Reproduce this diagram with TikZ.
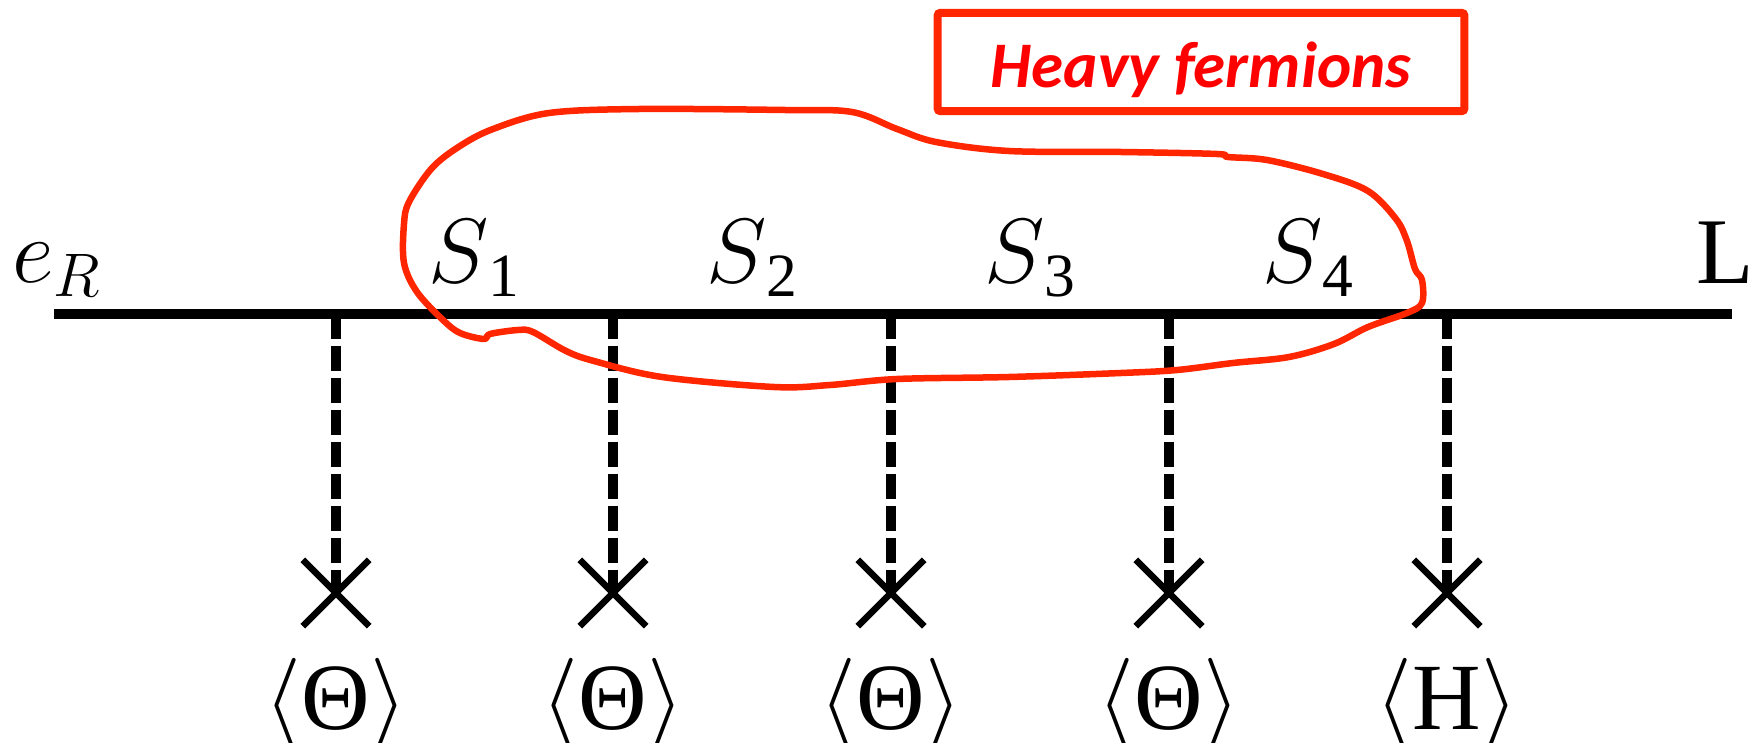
\RequirePackage{fix-cm}
\documentclass[tikz,border=0pt]{standalone}
\usepackage{fontspec}
\setmainfont{Liberation Serif}
\newfontfamily\calib{Carlito}
\usetikzlibrary{shapes.misc}
\definecolor{penred}{RGB}{255,38,0}
\definecolor{txtred}{RGB}{255,0,0}
\newcommand{\lsub}[1]{\raisebox{-0.3cm}{\fontsize{35}{40}\selectfont #1}}
\begin{document}
\begin{tikzpicture}[x=0.02cm,y=-0.02cm,
  mainline/.style={line width=0.2cm},
  prop/.style={line width=0.19cm, dash pattern=on 0.5cm off 0.14cm},
  vev/.style={cross out, draw, line width=0.13cm, minimum width=1.2cm, minimum height=1.2cm, inner sep=0pt},
  lab/.style={anchor=base, inner sep=0pt, font=\fontsize{52}{60}\selectfont},
  bot/.style={anchor=base, inner sep=0pt, font=\fontsize{54}{60}\selectfont},
  loop/.style={draw=penred, line width=0.13cm, line join=round},
  hfbox/.style={draw=penred, line width=0.16cm, rounded corners=0.06cm,
    minimum width=10.54cm, minimum height=1.97cm, inner sep=0pt,
    text height=1.2cm, text depth=0.16cm,
    font=\fontsize{37}{42}\calib\bfseries\itshape, text=txtred},
]
\useasboundingbox (0,0) rectangle (1758,743);
% main fermion line
\coordinate (lineL) at (54,314);
\coordinate (lineR) at (1732,314);
\draw[mainline] (lineL) -- (lineR);
% vertices, crosses, labels
\foreach \i/\x/\t in {1/336/Θ,2/613/Θ,3/891/Θ,4/1169/Θ,5/1447/H}{
  \coordinate (v\i) at (\x,314);
  \node[vev] (c\i) at (\x,593) {};
  \draw[prop] (v\i) -- (c\i.center);
  \node[bot] (b\i) at (\x,729) {$\langle$\t$\rangle$};
}
% line labels
\node[lab] (eR) at (56,282) {$e$\lsub{$R$}};
\node[lab] (S1) at (474,282) {$S$\lsub{1}};
\node[lab] (S2) at (752,282) {$S$\lsub{2}};
\node[lab] (S3) at (1030,282) {$S$\lsub{3}};
\node[lab] (S4) at (1308,282) {$S$\lsub{4}};
\node[lab, font=\fontsize{53.5}{60}\selectfont] (L) at (1725,283) {L};
% hand-drawn loop
\draw[loop] plot[smooth cycle, tension=0.55] coordinates {
 (404,263) (417,292) (443,320) (460,333) (484,339) (490,334) (518,330) (533,332)
 (566,351) (594,361) (662,377) (774,387) (830,385) (897,379) (1009,377) (1121,373)
 (1177,370) (1233,363) (1289,357) (1334,344) (1368,327) (1407,313) (1422,303)
 (1422,280) (1415,269) (1407,241) (1396,219) (1368,191) (1323,174) (1267,160)
 (1228,157) (1217,154) (1121,152) (1009,151) (936,142) (897,129) (852,112)
 (785,110) (639,109) (549,113) (493,129) (460,146) (432,168) (409,202) (404,224)};
% label box
\node[hfbox] (hf) at (1201,62) {Heavy fermions};
\end{tikzpicture}
\end{document}
